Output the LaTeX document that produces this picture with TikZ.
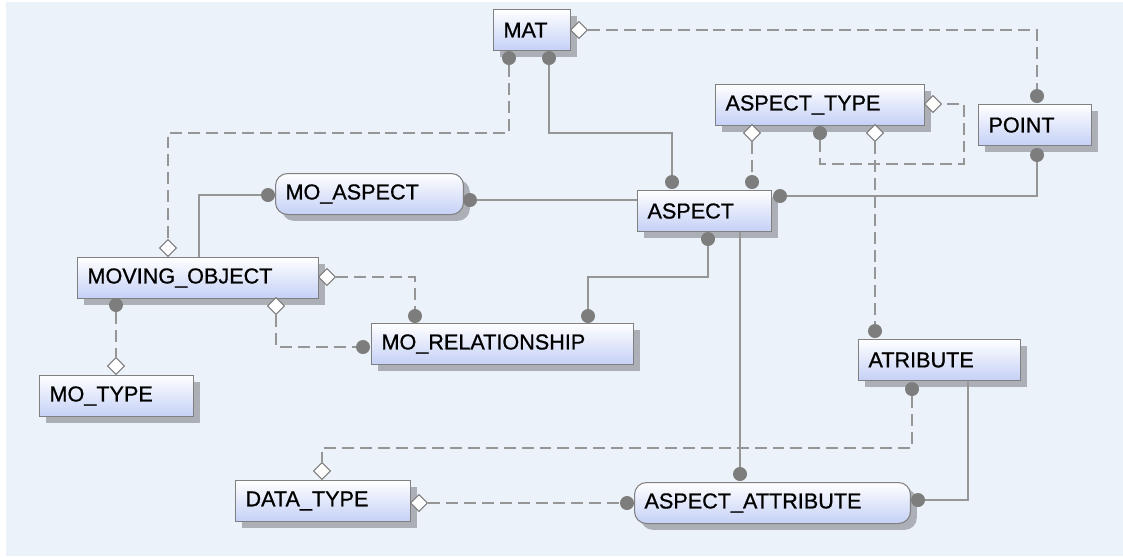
\documentclass[tikz,border=0pt]{standalone}
\usepackage{fontspec}
\setmainfont{Liberation Sans}
\newfontfamily\erfont{Liberation Sans}[FakeBold=0.8]
\usepackage{tikz}
\usetikzlibrary{positioning,shapes.geometric,shadows}
\definecolor{erbg}{RGB}{236,242,249}
\definecolor{erblue}{RGB}{196,208,246}
\definecolor{erborder}{RGB}{128,128,128}
\definecolor{erline}{RGB}{150,150,150}
\definecolor{erdot}{RGB}{125,125,125}
\definecolor{ershadow}{RGB}{172,175,182}

\begin{document}
\begin{tikzpicture}[x=0.02cm, y=-0.02cm, font=\erfont\fontsize{12.3}{14}\selectfont,
  entity/.style={draw=erborder, line width=0.6pt, top color=white, bottom color=erblue, anchor=north west, inner xsep=0.2cm, inner ysep=0pt, minimum height=0.82cm, align=left, drop shadow={fill=ershadow, shadow xshift=3.6pt, shadow yshift=-3.6pt, opacity=1}},
  weak/.style={entity, rounded corners=0.24cm},
  dot/.style={circle, fill=erdot, inner sep=0pt, minimum size=0.28cm},
  dia/.style={diamond, draw=erdot, fill=white, inner sep=0pt, minimum size=0.34cm, line width=0.6pt},
  ident/.style={draw=erline, line width=0.75pt},
  nonident/.style={ident, dash pattern=on 6.8pt off 3.4pt}]
\fill[white] (0,0) rectangle (1123,556);
\fill[erbg] (6,2) rectangle (1123,556);
\useasboundingbox (0,0) rectangle (1123,556);

\node[entity, text width=1.14cm] (mat) at (493,9) {MAT};
\node[entity, text width=3.78cm] (asptype) at (715,84) {ASPECT\_TYPE};
\node[entity, text width=1.86cm] (point) at (978,104) {POINT};
\node[weak, text width=3.36cm] (moasp) at (275,173) {MO\_ASPECT};
\node[entity, text width=2.28cm] (aspect) at (637,190) {ASPECT};
\node[entity, text width=4.42cm] (movobj) at (77,257) {MOVING\_OBJECT};
\node[entity, text width=4.84cm] (morel) at (371,323) {MO\_RELATIONSHIP};
\node[entity, text width=2.84cm] (atrib) at (858,339) {ATRIBUTE};
\node[entity, text width=2.68cm] (motype) at (39,375) {MO\_TYPE};
\node[entity, text width=3.10cm] (datatype) at (235,480) {DATA\_TYPE};
\node[weak, text width=5.12cm] (aspattr) at (634,482) {ASPECT\_ATTRIBUTE};

\node[dot] (matdotA) at (509,58) {};
\node[dot] (matdotB) at (549,58) {};
\node[dia] (matdia) at (579,30) {};
\node[dot] (pointdotT) at (1037,96) {};
\node[dot] (pointdotB) at (1037,155) {};
\node[dia] (asptdiaR) at (933,104) {};
\node[dia] (asptdiaA) at (752,133) {};
\node[dia] (asptdiaB) at (875,133) {};
\node[dot] (asptdot) at (820,133) {};
\node[dot] (aspdotA) at (672,182) {};
\node[dot] (aspdotB) at (752,182) {};
\node[dot] (aspdotR) at (780,196) {};
\node[dot] (aspdotS) at (708,239) {};
\node[dot] (moaspdotL) at (268,195) {};
\node[dot] (moaspdotR) at (470,200) {};
\node[dia] (movdiaT) at (168,248) {};
\node[dia] (movdiaR) at (327,277) {};
\node[dia] (movdiaS) at (276,306) {};
\node[dot] (movdot) at (116,305) {};
\node[dot] (moreldotA) at (415,316) {};
\node[dot] (moreldotB) at (588,316) {};
\node[dot] (moreldotL) at (363,347) {};
\node[dia] (mtypedia) at (116,366) {};
\node[dot] (atribdotT) at (875,331) {};
\node[dot] (atribdotS) at (912,389) {};
\node[dia] (dtypediaT) at (322,471) {};
\node[dia] (dtypediaR) at (419,503) {};
\node[dot] (aadotT) at (740,474) {};
\node[dot] (aadotL) at (627,503) {};
\node[dot] (aadotR) at (918,500) {};
\coordinate (movobjtop) at (199,257);
\coordinate (atribbase) at (968,381);

\draw[nonident] (matdia) -| (pointdotT);
\draw[nonident] (matdotA) -- ++(0,75) -| (movdiaT);
\draw[ident] (matdotB) -- ++(0,75) -| (aspdotA);
\draw[nonident] (asptdiaA) -- (aspdotB);
\draw[nonident] (asptdot) -- ++(0,31) -- ++(144,0) |- (asptdiaR);
\draw[nonident] (asptdiaB) -- (atribdotT);
\draw[ident] (pointdotB) |- (aspdotR);
\draw[ident] (moaspdotR) -- (moaspdotR -| aspect.west);
\draw[ident] (moaspdotL) -| (movobjtop);
\draw[ident] (aspdotS) -- ++(0,38) -| (moreldotB);
\draw[nonident] (movdiaR) -| (moreldotA);
\draw[nonident] (movdiaS) |- (moreldotL);
\draw[nonident] (movdot) -- (mtypedia);
\draw[ident] (aspect.south -| aadotT) -- (aadotT);
\draw[nonident] (atribdotS) -- ++(0,59) -| (dtypediaT);
\draw[nonident] (dtypediaR) -- (aadotL);
\draw[ident] (atribbase) |- (aadotR);
\end{tikzpicture}
\end{document}
